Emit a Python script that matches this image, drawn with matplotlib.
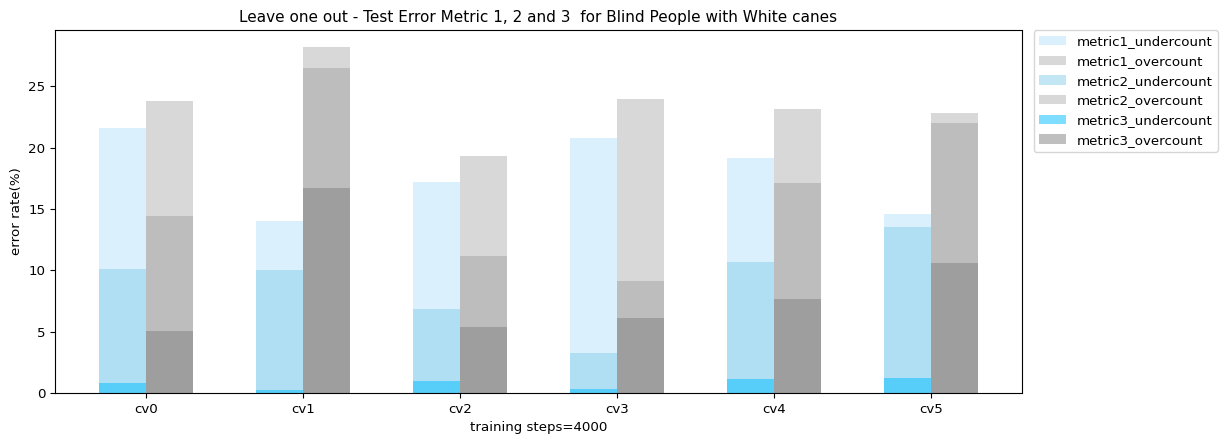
import matplotlib
matplotlib.use("Agg")
import matplotlib.pyplot as plt
import numpy as np

folds = ['cv0', 'cv1', 'cv2', 'cv3', 'cv4', 'cv5']

metric1_under = [21.6, 14.05, 17.24, 20.83, 19.2, 14.63]
metric1_over = [23.8, 28.2, 19.3, 23.99, 23.2, 22.87]
metric2_under = [10.13, 10.05, 6.86, 3.27, 10.7, 13.56]
metric2_over = [14.4, 26.5, 11.14, 9.15, 17.1, 21.99]
metric3_under = [0.79, 0.27, 0.98, 0.33, 1.1, 1.23]
metric3_over = [5.04, 16.7, 5.37, 6.1, 7.64, 10.6]

plt.rcParams['font.size'] = 9.6

x = np.arange(len(folds))
w = 0.3

fig = plt.figure(figsize=(12.24, 4.4), dpi=100)
ax = fig.add_axes([0.045, 0.107, 0.79, 0.825])

ax.bar(x, metric1_under, -w, align='edge', color='lightskyblue', alpha=0.3, label='metric1_undercount')
ax.bar(x, metric1_over, w, align='edge', color='grey', alpha=0.3, label='metric1_overcount')
ax.bar(x, metric2_under, -w, align='edge', color='skyblue', alpha=0.5, label='metric2_undercount')
ax.bar(x, metric2_over, w, align='edge', color='grey', alpha=0.3, label='metric2_overcount')
ax.bar(x, metric3_under, -w, align='edge', color='deepskyblue', alpha=0.5, label='metric3_undercount')
ax.bar(x, metric3_over, w, align='edge', color='grey', alpha=0.5, label='metric3_overcount')

ax.set_xticks(x)
ax.set_xticklabels(folds)
ax.set_xlabel('training steps=4000')
ax.set_ylabel('error rate(%)')
ax.set_title('Leave one out - Test Error Metric 1, 2 and 3  for Blind People with White canes', fontsize=11)
ax.legend(loc='upper left', bbox_to_anchor=(1.012, 1.0), borderaxespad=0)

fig.savefig('out.png', dpi=100)
